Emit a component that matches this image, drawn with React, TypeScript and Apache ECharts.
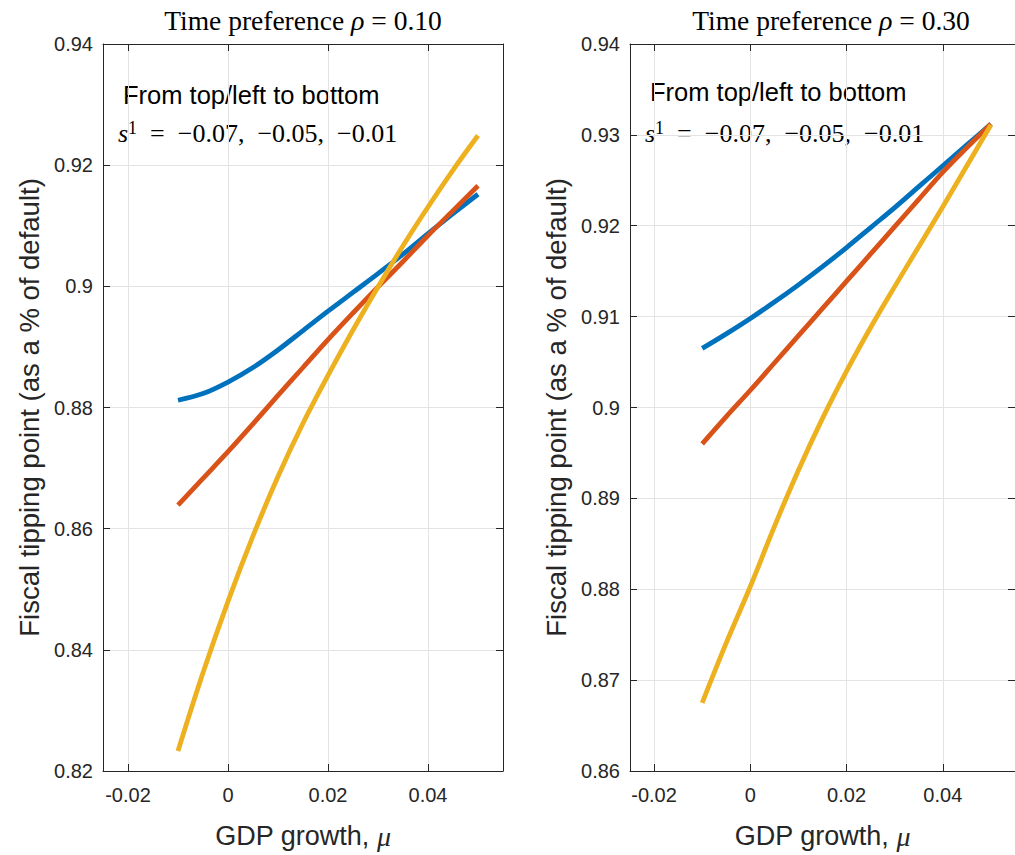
import React, { useEffect, useRef } from "react";
import * as echarts from "echarts";

// GDP growth grid (x values)
const growth = [-0.01, -0.005, 0, 0.005, 0.01, 0.015, 0.02, 0.025, 0.03, 0.035, 0.04, 0.045, 0.05];
const xTicks = [-0.02, 0, 0.02, 0.04];

// Panel 1: time preference rho = 0.10
const rho10_s07 = [0.8812, 0.8823, 0.8842, 0.8866, 0.8895, 0.8927, 0.8959, 0.899, 0.9021, 0.9053, 0.9087, 0.912, 0.9152];
const rho10_s05 = [0.8639, 0.8683, 0.8727, 0.8773, 0.882, 0.8866, 0.8912, 0.8956, 0.8999, 0.9041, 0.9084, 0.9125, 0.9166];
const rho10_s01 = [0.8233, 0.8362, 0.848, 0.8588, 0.8686, 0.8774, 0.8853, 0.8928, 0.8999, 0.9067, 0.9131, 0.9192, 0.9249];

// Panel 2: time preference rho = 0.30
const rho30_s07 = [0.9065, 0.9081, 0.9098, 0.9116, 0.9135, 0.9155, 0.9176, 0.9198, 0.922, 0.9243, 0.9266, 0.9289, 0.9312];
const rho30_s05 = [0.896, 0.899, 0.9019, 0.9049, 0.9079, 0.9109, 0.9139, 0.9169, 0.9199, 0.9229, 0.9259, 0.9286, 0.9312];
const rho30_s01 = [0.8675, 0.8741, 0.8803, 0.8869, 0.8931, 0.8988, 0.904, 0.9088, 0.9133, 0.9177, 0.9221, 0.9266, 0.9311];

const rhoLabels = ["0.10", "0.30"];
const sValues = ["−0.07", "−0.05", "−0.01"];
const yRanges = [
  { min: 0.82, max: 0.94, interval: 0.02 },
  { min: 0.86, max: 0.94, interval: 0.01 },
];
const panelSeries = [
  [rho10_s07, rho10_s05, rho10_s01],
  [rho30_s07, rho30_s05, rho30_s01],
];
const lineColors = ["#0072BD", "#D95319", "#EDB120"];

const AX = "#262626";
const GRIDC = "#e3e3e3";
const SANS = "Liberation Sans";
const SERIF = "Liberation Serif";

const fmt = (v: number) => String(parseFloat(v.toFixed(4)));

export default function App() {
  const ref = useRef<HTMLDivElement>(null);
  useEffect(() => {
    if (!ref.current) return;
    const chart = echarts.init(ref.current, null, { renderer: "svg" });

    const grids = [
      { left: 103, top: 44, width: 400, height: 734 },
      { left: 630, top: 44, width: 403, height: 734 },
    ];

    const xAxes: any[] = [];
    const yAxes: any[] = [];
    grids.forEach((_, g) => {
      ["bottom", "top"].forEach((pos) => {
        const main = pos === "bottom";
        xAxes.push({
          type: "value",
          gridIndex: g,
          position: pos,
          min: -0.025,
          max: 0.055,
          axisLine: { show: true, onZero: false, lineStyle: { color: AX, width: 1 } },
          axisTick: { show: true, inside: true, length: 7, customValues: xTicks, lineStyle: { color: AX } },
          axisLabel: {
            show: main,
            customValues: xTicks,
            formatter: fmt,
            fontSize: 20,
            fontFamily: SANS,
            color: AX,
            margin: 14,
          },
          splitLine: { show: main, lineStyle: { color: GRIDC, width: 1 } },
          name: main ? "{a|GDP growth, }{m|μ}" : "",
          nameLocation: "middle",
          nameGap: 51,
          nameTextStyle: {
            color: AX,
            rich: {
              a: { fontSize: 27, fontFamily: SANS, color: AX },
              m: { fontSize: 28, fontFamily: SERIF, fontStyle: "italic", color: AX },
            },
          },
        });
      });
      ["left", "right"].forEach((pos) => {
        const main = pos === "left";
        yAxes.push({
          type: "value",
          gridIndex: g,
          position: pos,
          min: yRanges[g].min,
          max: yRanges[g].max,
          interval: yRanges[g].interval,
          axisLine: { show: true, onZero: false, lineStyle: { color: AX, width: 1 } },
          axisTick: { show: true, inside: true, length: 7, lineStyle: { color: AX } },
          axisLabel: {
            show: main,
            formatter: fmt,
            fontSize: 20,
            fontFamily: SANS,
            color: AX,
            margin: 10,
          },
          splitLine: { show: main, lineStyle: { color: GRIDC, width: 1 } },
          name: main ? "Fiscal tipping point (as a % of default)" : "",
          nameLocation: "middle",
          nameRotate: 90,
          nameGap: 60,
          nameTextStyle: { fontSize: 27.5, fontFamily: SANS, color: AX },
        });
      });
    });

    const series: any[] = [];
    panelSeries.forEach((list, g) => {
      list.forEach((vals, i) => {
        series.push({
          type: "line",
          name: `rho ${rhoLabels[g]} s1 ${sValues[i]}`,
          xAxisIndex: g * 2,
          yAxisIndex: g * 2,
          data: growth.map((x, k) => [x, vals[k]]),
          showSymbol: false,
          symbol: "none",
          smooth: 0.35,
          lineStyle: { color: lineColors[i], width: 4.8, cap: "butt" },
          z: 3 + i,
        });
      });
    });

    const titleX = [303, 831];
    const noteX = [123, 650];
    const noteY = [95, 92];
    const sX = [118, 645];
    const graphic: any[] = [];
    titleX.forEach((x, g) => {
      graphic.push({
        type: "text",
        x,
        y: 20.5,
        style: {
          text: `{a|Time preference }{r|ρ}{a| = ${rhoLabels[g]}}`,
          textAlign: "center",
          textVerticalAlign: "middle",
          rich: {
            a: { fontSize: 27.5, fontFamily: SERIF, fill: "#000" },
            r: { fontSize: 28, fontFamily: SERIF, fontStyle: "italic", fill: "#000" },
          },
        },
      });
      graphic.push({
        type: "text",
        x: noteX[g],
        y: noteY[g],
        style: {
          text: "From top/left to bottom",
          font: `25.5px "${SANS}"`,
          fill: "#000",
          textAlign: "left",
          textVerticalAlign: "middle",
        },
      });
      graphic.push({
        type: "text",
        x: sX[g],
        y: 133.5,
        style: {
          text: `{s|s}{sup|1}{t|  =  ${sValues.join(",  ")}}`,
          textAlign: "left",
          textVerticalAlign: "middle",
          rich: {
            s: { fontSize: 26, lineHeight: 30, fontFamily: SERIF, fontStyle: "italic", fill: "#000" },
            sup: { fontSize: 18, lineHeight: 20, verticalAlign: "top", fontFamily: SERIF, fill: "#000" },
            t: { fontSize: 26, lineHeight: 30, fontFamily: SERIF, fill: "#000" },
          },
        },
      });
    });

    chart.setOption({
      animation: false,
      backgroundColor: "#ffffff",
      grid: grids,
      xAxis: xAxes,
      yAxis: yAxes,
      series,
      graphic,
    });
    return () => chart.dispose();
  }, []);
  return (
    <div
      ref={ref}
      style={{ position: "fixed", left: 0, top: 0, width: 1015, height: 855, background: "#fff" }}
    />
  );
}
